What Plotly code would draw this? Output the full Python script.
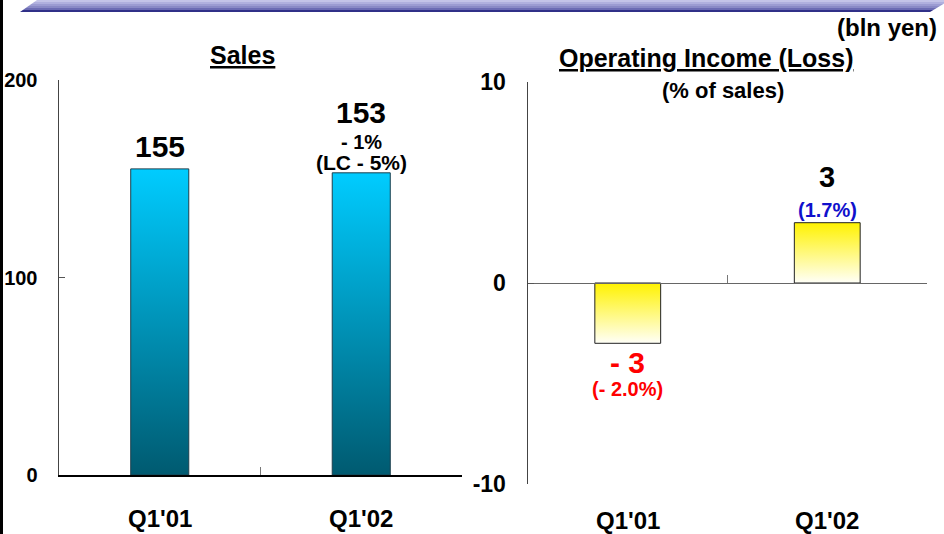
import plotly.graph_objects as go

# ---- data ----
categories = ["Q1'01", "Q1'02"]
sales_values = [155, 153]
sales_change = ["", "- 1%"]
sales_lc = ["", "(LC - 5%)"]
oi_values = [-3, 3]
oi_labels = ["- 3", "3"]
oi_pct = ["(- 2.0%)", "(1.7%)"]
sales_ticks = [0, 100, 200]
sales_tick_labels = ["0", "100", "200"]
oi_ticks = [-10, 0, 10]
oi_tick_labels = ["-10", "0", "10"]

W, H = 944, 534
FONT = "Liberation Sans, Arial, Helvetica, sans-serif"


def px(x):
    return x / W


def py(y):
    return 1 - y / H


fig = go.Figure()

# Sales bars (gradient-filled rectangles drawn from the data)
hw_s = 0.144
for i, v in enumerate(sales_values):
    fig.add_trace(go.Scatter(
        x=[i - hw_s, i - hw_s, i + hw_s, i + hw_s, i - hw_s],
        y=[0, v, v, 0, 0],
        mode="lines", fill="toself",
        line=dict(color="#1d3f4d", width=1),
        fillgradient=dict(type="vertical",
                          colorscale=[[0, "#005A70"], [1, "#00CCFF"]]),
        xaxis="x", yaxis="y", hoverinfo="skip", showlegend=False))

# Operating income bars
hw_o = 0.165
for i, v in enumerate(oi_values):
    fig.add_trace(go.Scatter(
        x=[i - hw_o, i - hw_o, i + hw_o, i + hw_o, i - hw_o],
        y=[0, v, v, 0, 0],
        mode="lines", fill="toself",
        line=dict(color="#222222", width=1),
        fillgradient=dict(type="vertical",
                          colorscale=[[0, "#FFFFF8"], [1, "#FFF200"]]),
        xaxis="x2", yaxis="y2", hoverinfo="skip", showlegend=False))

ann = []
# sales value labels
for i, v in enumerate(sales_values):
    has_sub = bool(sales_change[i])
    ann.append(dict(x=i, y=v, xref="x", yref="y", text=str(v), showarrow=False,
                    xanchor="center", yanchor="middle", yshift=60 if has_sub else 22,
                    font=dict(size=30, color="black", family=FONT, weight="bold")))
    if has_sub:
        ann.append(dict(x=i, y=v, xref="x", yref="y", text=sales_change[i], showarrow=False,
                        xanchor="center", yanchor="middle", yshift=31,
                        font=dict(size=20, color="black", family=FONT, weight="bold")))
        ann.append(dict(x=i, y=v, xref="x", yref="y", text=sales_lc[i], showarrow=False,
                        xanchor="center", yanchor="middle", yshift=10,
                        font=dict(size=21, color="black", family=FONT, weight="bold")))

# operating income labels
for i, v in enumerate(oi_values):
    if v >= 0:
        ann.append(dict(x=i, y=v, xref="x2", yref="y2", text=oi_labels[i], showarrow=False,
                        xanchor="center", yanchor="middle", yshift=46,
                        font=dict(size=29, color="black", family=FONT, weight="bold")))
        ann.append(dict(x=i, y=v, xref="x2", yref="y2", text=oi_pct[i], showarrow=False,
                        xanchor="center", yanchor="middle", yshift=13,
                        font=dict(size=20, color="#1010CC", family=FONT, weight="bold")))
    else:
        ann.append(dict(x=i, y=v, xref="x2", yref="y2", text=oi_labels[i], showarrow=False,
                        xanchor="center", yanchor="middle", yshift=-19,
                        font=dict(size=30, color="#FF0000", family=FONT, weight="bold")))
        ann.append(dict(x=i, y=v, xref="x2", yref="y2", text=oi_pct[i], showarrow=False,
                        xanchor="center", yanchor="middle", yshift=-46,
                        font=dict(size=20, color="#FF0000", family=FONT, weight="bold")))

# category labels
for i, c in enumerate(categories):
    ann.append(dict(x=i, y=py(518), xref="x", yref="paper", text=c, showarrow=False,
                    xanchor="center", yanchor="middle",
                    font=dict(size=24, color="black", family=FONT, weight="bold")))
    ann.append(dict(x=i, y=py(520), xref="x2", yref="paper", text=c, showarrow=False,
                    xanchor="center", yanchor="middle",
                    font=dict(size=24, color="black", family=FONT, weight="bold")))

# titles
ann.append(dict(x=px(243), y=py(55), xref="paper", yref="paper", text="<u>Sales</u>",
                showarrow=False, xanchor="center", yanchor="middle",
                font=dict(size=25, color="black", family=FONT, weight="bold")))
ann.append(dict(x=px(706), y=py(58), xref="paper", yref="paper", text="<u>Operating Income (Loss)</u>",
                showarrow=False, xanchor="center", yanchor="middle",
                font=dict(size=25, color="black", family=FONT, weight="bold")))
ann.append(dict(x=px(723), y=py(91), xref="paper", yref="paper", text="(% of sales)",
                showarrow=False, xanchor="center", yanchor="middle",
                font=dict(size=22, color="black", family=FONT, weight="bold")))
ann.append(dict(x=px(939), y=py(27), xref="paper", yref="paper", text="(bln yen)",
                showarrow=False, xanchor="right", yanchor="middle",
                font=dict(size=24, color="black", family=FONT, weight="bold")))

# decorative banner and left border
shapes = []
stripe_cols = ["#c4c4e8", "#b0b0de", "#9c9cd2", "#8a8ac6", "#6c6cb4", "#303088"]
top, bot = 0.0, 12.0
for k, col in enumerate(stripe_cols):
    y0 = top + k * (bot - top) / len(stripe_cols)
    y1 = top + (k + 1) * (bot - top) / len(stripe_cols)
    xl0 = 37 - (37 - 20) * (y0 / bot)
    xl1 = 37 - (37 - 20) * (y1 / bot)
    xr0 = 950 - (950 - 930) * (y0 / bot)
    xr1 = 950 - (950 - 930) * (y1 / bot)
    path = (f"M {px(xl0)},{py(y0)} L {px(xr0)},{py(y0)} L {px(xr1)},{py(y1)} "
            f"L {px(xl1)},{py(y1)} Z")
    shapes.append(dict(type="path", path=path, xref="paper", yref="paper",
                       fillcolor=col, line=dict(width=0), layer="above"))
shapes.append(dict(type="line", x0=px(1.5), x1=px(1.5), y0=0, y1=1, xref="paper", yref="paper",
                   line=dict(color="black", width=3)))

fig.update_layout(
    width=W, height=H, autosize=False,
    margin=dict(l=0, r=0, t=0, b=0, autoexpand=False),
    paper_bgcolor="white", plot_bgcolor="white",
    showlegend=False,
    annotations=ann, shapes=shapes,
    xaxis=dict(domain=[px(59), px(462)], range=[-0.5, 1.5], tickvals=[0.5, 1.5],
               ticks="inside", ticklen=8, tickcolor="#777", tickwidth=1,
               showticklabels=False, showgrid=False, zeroline=False,
               showline=True, linecolor="black", linewidth=2, fixedrange=True),
    yaxis=dict(domain=[1 - 475 / H, 1 - 80 / H], range=[0, 200], tickvals=sales_ticks,
               ticktext=sales_tick_labels,
               ticks="inside", ticklen=6, tickcolor="#555", showgrid=False, zeroline=False,
               showline=True, linecolor="#444", linewidth=1.5, ticklabelstandoff=16,
               tickfont=dict(size=20, color="black", family=FONT, weight="bold"), fixedrange=True),
    xaxis2=dict(domain=[px(528), px(927)], range=[-0.5, 1.5], tickvals=[0.5, 1.5],
                anchor="free", position=0.5 * ((1 - 484 / H) + (1 - 82 / H)),
                ticks="inside", ticklen=8, tickcolor="#777", tickwidth=1,
                showticklabels=False, showgrid=False, zeroline=False,
                showline=True, linecolor="#666", linewidth=1, fixedrange=True),
    yaxis2=dict(domain=[1 - 484 / H, 1 - 82 / H], range=[-10, 10], tickvals=oi_ticks,
                ticktext=oi_tick_labels,
                anchor="x2", ticks="inside", ticklen=6, tickcolor="#555",
                showgrid=False, zeroline=False,
                showline=True, linecolor="#444", linewidth=1.5, ticklabelstandoff=16,
                tickfont=dict(size=23, color="black", family=FONT, weight="bold"), fixedrange=True),
)

fig.write_html("out.html",
               config={"displayModeBar": False, "staticPlot": True},
               post_script="document.body.style.margin='0';"
                           "document.body.style.padding='0';"
                           "document.body.style.overflow='hidden';"
                           "document.documentElement.style.overflow='hidden';")
